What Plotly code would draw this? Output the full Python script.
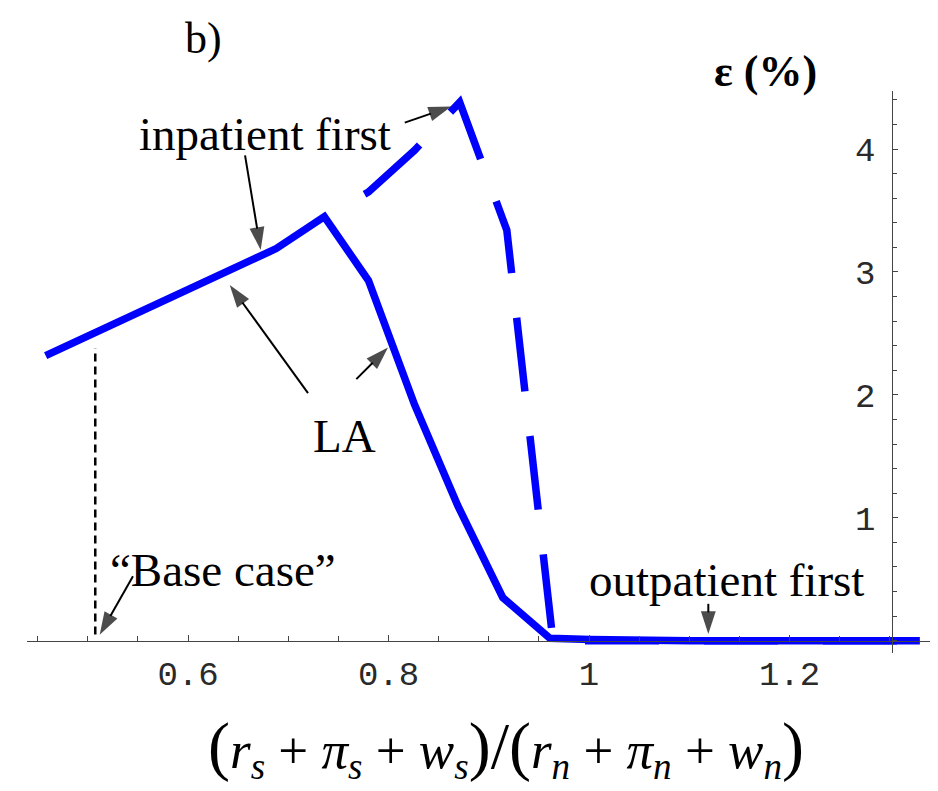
import plotly.graph_objects as go

# ---- data ----
solid_x = [0.458, 0.523, 0.553, 0.688, 0.736, 0.780, 0.826, 0.869, 0.914, 0.961, 1.001, 1.05, 1.10, 1.15, 1.20, 1.25, 1.30, 1.33]
solid_y = [2.32, 2.57, 2.68, 3.19, 3.45, 2.93, 1.92, 1.10, 0.35, 0.02, 0.01, 0.0, 0.0, 0.0, 0.0, 0.0, 0.0, 0.0]

dashed_x = [0.736, 0.780, 0.826, 0.871, 0.918, 0.964, 1.05, 1.15, 1.25, 1.33]
dashed_y = [3.45, 3.65, 3.99, 4.38, 3.34, 0.0, 0.0, 0.0, 0.0, 0.0]

base_case_x = 0.5075
base_case_y = [0.05, 2.38]

x_tickvals = [0.6, 0.8, 1.0, 1.2]
x_ticktext = ["0.6", "0.8", "1", "1.2"]
y_tickvals = [1, 2, 3, 4]
y_ticktext = ["1", "2", "3", "4"]

# arrows: (tail, tip) in data units
arrows = [
    ((0.6569, 3.949), (0.6725, 3.179)),   # inpatient first -> solid
    ((0.8162, 4.215), (0.8626, 4.345)),   # inpatient first -> dashed
    ((0.7197, 2.014), (0.6416, 2.894)),   # LA -> solid (left)
    ((0.7679, 2.128), (0.7995, 2.385)),   # LA -> solid (right)
    ((0.5451, 0.5236), (0.5119, 0.0488)), # base case
    ((1.1190, 0.300), (1.1190, 0.0545)),  # outpatient first
]

x_range = [0.4394, 1.3481]
y_range = [-0.10, 4.472]
y_axis_x = 1.3025

BLUE = "#0000ff"
SERIF = "Liberation Serif, Times New Roman, serif"
MONO = "Liberation Mono, Courier New, monospace"

dash_pattern = "0px,46px," + ",".join(["74px,45px"] * 12)

fig = go.Figure()
fig.add_trace(go.Scatter(x=[base_case_x, base_case_x], y=base_case_y, mode="lines",
                         line=dict(color="black", width=2.5, dash="8px,5px"), showlegend=False,
                         hoverinfo="skip"))
fig.add_trace(go.Scatter(x=dashed_x, y=dashed_y, mode="lines",
                         line=dict(color=BLUE, width=7.5, dash=dash_pattern), showlegend=False))
fig.add_trace(go.Scatter(x=solid_x, y=solid_y, mode="lines",
                         line=dict(color=BLUE, width=7.5), showlegend=False))

for tail, tip in arrows:
    fig.add_trace(go.Scatter(x=[tail[0], tip[0]], y=[tail[1], tip[1]], mode="lines+markers",
                             line=dict(color="black", width=2),
                             marker=dict(symbol="arrow", size=[0, 24], angleref="previous",
                                         color="black", line=dict(width=0)),
                             showlegend=False, hoverinfo="skip"))

L, R, T, B = 19, 8, 82.7, 146
W, H = 938, 791
plot_w = W - L - R
plot_h = H - T - B
x_pos_frac = (y_axis_x - x_range[0]) / (x_range[1] - x_range[0])
y_zero_frac = (0 - y_range[0]) / (y_range[1] - y_range[0])

fig.update_layout(
    width=W, height=H,
    margin=dict(l=L, r=R, t=T, b=B, pad=0),
    plot_bgcolor="white", paper_bgcolor="white",
    xaxis=dict(range=x_range, anchor="free", position=y_zero_frac,
               showgrid=False, zeroline=False, showline=True, linecolor="#444", linewidth=1.3,
               ticks="inside", ticklen=6, tickwidth=1.2, tickcolor="#444",
               tickvals=x_tickvals, ticktext=x_ticktext,
               tickfont=dict(family=MONO, size=34, color="#2a2a2a"), ticklabelstandoff=2,
               minor=dict(dtick=0.05, tick0=0, ticks="inside", ticklen=5, tickwidth=1.2, tickcolor="#444")),
    yaxis=dict(range=y_range, anchor="free", position=x_pos_frac, side="left",
               showgrid=False, zeroline=False, showline=True, linecolor="#444", linewidth=1.3,
               ticks="inside", ticklen=5, tickwidth=1.2, tickcolor="#444",
               tickvals=y_tickvals, ticktext=y_ticktext,
               tickfont=dict(family=MONO, size=34, color="#2a2a2a"), ticklabelstandoff=10,
               minor=dict(dtick=0.2, tick0=0, ticks="inside", ticklen=4, tickwidth=1.2, tickcolor="#444")),
)

def txt(x, y, s, size=47, ref="data"):
    if ref == "data":
        xr, yr = "x", "y"
    else:
        xr, yr = "paper", "paper"
        x = (x - L) / plot_w
        y = (H - B - y) / plot_h
    fig.add_annotation(x=x, y=y, xref=xr, yref=yr, text=s, showarrow=False,
                       font=dict(family=SERIF, size=size, color="black"),
                       xanchor="center", yanchor="middle")

txt(0.6768, 4.126, "inpatient first")
txt(0.7556, 1.664, "LA")
txt(0.6349, 0.575, "\u201cBase case\u201d")
txt(1.1367, 0.493, "outpatient first")
# texts outside the plotting range: placed in pixel position (converted to paper)
txt(195, 30, "b)", size=44, ref="px")
txt(757, 63, "<b>\u03b5 (%)</b>", size=44, ref="px")
P_OPEN = '<span style="font-size:66px">(</span>'
P_CLOSE = '<span style="font-size:66px">)</span>'
txt(498, 740,
    P_OPEN + "<i>r</i><sub><i>s</i></sub> + <i>\u03c0</i><sub><i>s</i></sub> + <i>w</i><sub><i>s</i></sub>"
    + P_CLOSE + '<span style="font-size:66px">/</span>' + P_OPEN
    + "<i>r</i><sub><i>n</i></sub> + <i>\u03c0</i><sub><i>n</i></sub> + <i>w</i><sub><i>n</i></sub>" + P_CLOSE,
    size=53, ref="px")

fig.write_html("out.html")
